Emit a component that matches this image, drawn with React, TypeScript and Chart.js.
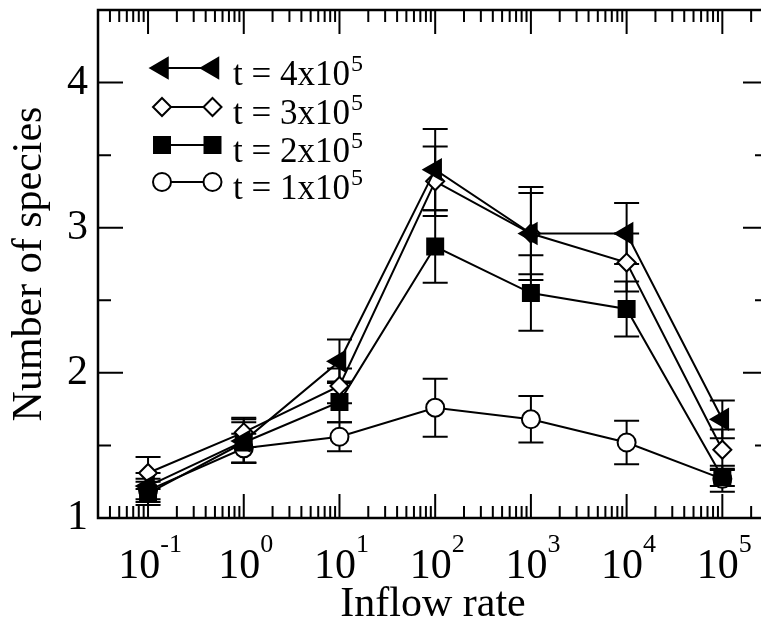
import React, { useEffect, useRef } from 'react';
import { Chart, registerables } from 'chart.js';

Chart.register(...registerables);

// ---- data ----
const inflowRates = [0.1, 1, 10, 100, 1000, 10000, 100000];
const seriesNames = ['t = 4x10', 't = 3x10', 't = 2x10', 't = 1x10'];
const seriesSup = ['5', '5', '5', '5'];
const speciesT4 = [1.22, 1.53, 2.08, 3.4, 2.96, 2.96, 1.68];
const errorT4 = [0.09, 0.15, 0.15, 0.28, 0.32, 0.21, 0.13];
const speciesT3 = [1.31, 1.59, 1.91, 3.32, 2.96, 2.76, 1.47];
const errorT3 = [0.11, 0.1, 0.12, 0.24, 0.28, 0.2, 0.14];
const speciesT2 = [1.17, 1.52, 1.8, 2.87, 2.55, 2.44, 1.28];
const errorT2 = [0.08, 0.14, 0.14, 0.25, 0.26, 0.19, 0.06];
const speciesT1 = [1.19, 1.48, 1.56, 1.76, 1.68, 1.52, 1.27];
const errorT1 = [0.08, 0.1, 0.1, 0.2, 0.16, 0.15, 0.09];
const xTickExponents = ['-1', '0', '1', '2', '3', '4', '5'];
const yTickValues = [1, 2, 3, 4];
const xTitle = 'Inflow rate';
const yTitle = 'Number of species';

const FONT = '"Liberation Serif", "Times New Roman", serif';
const seriesValues = [speciesT4, speciesT3, speciesT2, speciesT1];
const seriesErrors = [errorT4, errorT3, errorT2, errorT1];
const styles = [
  { pointStyle: 'triangle', rotation: -90, radius: 11.5, fill: '#000' },
  { pointStyle: 'rectRot', rotation: 0, radius: 9, fill: '#fff' },
  { pointStyle: 'rect', rotation: 0, radius: 11.3, fill: '#000' },
  { pointStyle: 'circle', rotation: 0, radius: 9, fill: '#fff' },
];

function drawMarker(ctx: CanvasRenderingContext2D, idx: number, cx: number, cy: number) {
  const s = styles[idx];
  const r = s.radius;
  ctx.beginPath();
  if (s.pointStyle === 'triangle') {
    ctx.moveTo(cx - r, cy);
    ctx.lineTo(cx + r / 2, cy - 0.866 * r);
    ctx.lineTo(cx + r / 2, cy + 0.866 * r);
    ctx.closePath();
  } else if (s.pointStyle === 'rectRot') {
    ctx.moveTo(cx, cy - r);
    ctx.lineTo(cx + r, cy);
    ctx.lineTo(cx, cy + r);
    ctx.lineTo(cx - r, cy);
    ctx.closePath();
  } else if (s.pointStyle === 'rect') {
    const h = Math.SQRT1_2 * r;
    ctx.rect(cx - h, cy - h, 2 * h, 2 * h);
  } else {
    ctx.arc(cx, cy, r, 0, Math.PI * 2);
    ctx.closePath();
  }
  ctx.fillStyle = s.fill;
  ctx.fill();
  ctx.lineWidth = 2;
  ctx.strokeStyle = '#000';
  ctx.stroke();
}

const customPlugin = {
  id: 'customDecor',
  beforeDatasetsDraw(chart: any) {
    const ctx: CanvasRenderingContext2D = chart.ctx;
    const xs = chart.scales.x;
    const ys = chart.scales.y;
    ctx.save();
    ctx.strokeStyle = '#000';
    ctx.lineWidth = 2;
    seriesValues.forEach((vals, i) => {
      const errs = seriesErrors[i];
      vals.forEach((v, j) => {
        const x = xs.getPixelForValue(inflowRates[j]);
        const yt = ys.getPixelForValue(v + errs[j]);
        const yb = ys.getPixelForValue(v - errs[j]);
        ctx.beginPath();
        ctx.moveTo(x, yt);
        ctx.lineTo(x, yb);
        ctx.moveTo(x - 12.5, yt);
        ctx.lineTo(x + 12.5, yt);
        ctx.moveTo(x - 12.5, yb);
        ctx.lineTo(x + 12.5, yb);
        ctx.stroke();
      });
    });
    ctx.restore();
  },
  afterDraw(chart: any) {
    const ctx: CanvasRenderingContext2D = chart.ctx;
    const xs = chart.scales.x;
    const ys = chart.scales.y;
    const { left, right, top, bottom } = chart.chartArea;
    ctx.save();
    ctx.strokeStyle = '#000';
    // frame
    ctx.lineWidth = 2.5;
    ctx.strokeRect(left, top, right - left, bottom - top);
    // x ticks (log)
    ctx.lineWidth = 2;
    ctx.beginPath();
    for (let d = -2; d <= 6; d++) {
      for (let m = 1; m <= 9; m++) {
        const v = m * Math.pow(10, d);
        if (v < xs.min || v > xs.max) continue;
        const x = xs.getPixelForValue(v);
        const len = m === 1 ? 24 : 12;
        ctx.moveTo(x, bottom);
        ctx.lineTo(x, bottom - len);
        ctx.moveTo(x, top);
        ctx.lineTo(x, top + len);
      }
    }
    // y ticks
    for (let v = 1; v <= 4.5001; v += 0.5) {
      const y = ys.getPixelForValue(v);
      const major = Math.abs(v - Math.round(v)) < 1e-6;
      const len = major ? 25 : 13;
      ctx.moveTo(left, y);
      ctx.lineTo(left + len, y);
      ctx.moveTo(right, y);
      ctx.lineTo(right - len, y);
    }
    ctx.stroke();

    // x tick labels with superscripts
    ctx.fillStyle = '#000';
    ctx.textBaseline = 'alphabetic';
    ctx.textAlign = 'left';
    const big = `42px ${FONT}`;
    const small = `26px ${FONT}`;
    xTickExponents.forEach((e) => {
      const x = xs.getPixelForValue(Math.pow(10, Number(e)));
      ctx.font = big;
      const w1 = ctx.measureText('10').width;
      ctx.font = small;
      const w2 = ctx.measureText(e).width;
      const start = x - (w1 + w2) / 2 + 2;
      ctx.font = big;
      ctx.fillText('10', start, bottom + 60);
      ctx.font = small;
      ctx.fillText(e, start + w1, bottom + 34);
    });

    // legend
    const lx1 = left + 64;
    const lx2 = left + 114.5;
    const rowsY = [top + 58, top + 97, top + 135, top + 172];
    seriesNames.forEach((name, i) => {
      const cy = rowsY[i];
      ctx.beginPath();
      ctx.moveTo(lx1, cy);
      ctx.lineTo(lx2, cy);
      ctx.lineWidth = 2;
      ctx.strokeStyle = '#000';
      ctx.stroke();
      drawMarker(ctx, i, lx1, cy);
      drawMarker(ctx, i, lx2, cy);
      ctx.fillStyle = '#000';
      ctx.font = `35px ${FONT}`;
      ctx.fillText(name, left + 135, cy + 17);
      const w = ctx.measureText(name).width;
      ctx.font = `24px ${FONT}`;
      ctx.fillText(seriesSup[i], left + 135 + w + 1, cy + 3);
    });
    ctx.restore();
  },
};

export default function App() {
  const ref = useRef<HTMLCanvasElement | null>(null);
  useEffect(() => {
    if (!ref.current) return;
    const datasets = seriesValues.map((vals, i) => ({
      label: seriesNames[i] + seriesSup[i],
      data: vals.map((v, j) => ({ x: inflowRates[j], y: v })),
      borderColor: '#000',
      borderWidth: 2,
      backgroundColor: styles[i].fill,
      pointStyle: styles[i].pointStyle as any,
      pointRotation: styles[i].rotation,
      pointRadius: styles[i].radius,
      pointBackgroundColor: styles[i].fill,
      pointBorderColor: '#000',
      pointBorderWidth: 2,
      fill: false,
      tension: 0,
    }));
    const chart = new Chart(ref.current, {
      type: 'line',
      data: { datasets },
      plugins: [customPlugin],
      options: {
        animation: false,
        responsive: false,
        devicePixelRatio: 1,
        layout: { autoPadding: false, padding: { left: 0, top: 10, right: 32, bottom: 0 } },
        plugins: { legend: { display: false }, tooltip: { enabled: false } },
        scales: {
          x: {
            type: 'logarithmic',
            min: 0.03,
            max: 300000,
            grid: { display: false, drawTicks: false },
            border: { display: false },
            ticks: { display: false },
            title: {
              display: true,
              text: xTitle,
              color: '#000',
              font: { family: FONT, size: 42, lineHeight: 1.0 },
              padding: { top: 0, bottom: 2.5 },
            },
            afterFit: (s: any) => {
              s.height = 110;
              s.paddingLeft = 0;
              s.paddingRight = 0;
            },
          },
          y: {
            type: 'linear',
            min: 1,
            max: 4.5,
            grid: { display: false, drawTicks: false },
            border: { display: false },
            ticks: {
              stepSize: 1,
              includeBounds: false,
              padding: 10,
              color: '#000',
              font: { family: FONT, size: 42 },
              callback: (v: any) => (yTickValues.includes(Number(v)) ? String(v) : ''),
            },
            title: {
              display: true,
              text: yTitle,
              color: '#000',
              font: { family: FONT, size: 42, lineHeight: 1.2 },
              padding: { top: 5, bottom: 0 },
            },
            afterFit: (s: any) => {
              s.width = 98;
              s.paddingTop = 0;
              s.paddingBottom = 0;
            },
          },
        },
      },
    });
    return () => chart.destroy();
  }, []);
  return (
    <div style={{ position: 'absolute', left: 0, top: 0, width: 761, height: 628, overflow: 'hidden', background: '#fff' }}>
      <canvas ref={ref} width={800} height={628} style={{ display: 'block', width: 800, height: 628 }} />
    </div>
  );
}
